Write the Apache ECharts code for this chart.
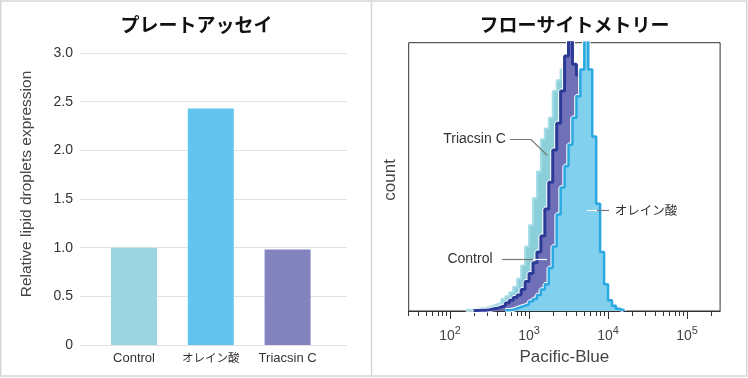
<!DOCTYPE html>
<html>
<head>
<meta charset="utf-8">
<script src="https://cdn.jsdelivr.net/npm/echarts@6/dist/echarts.min.js"></script>
<style>
html,body{margin:0;padding:0;background:#fff;}
#main{width:748px;height:378px;}
</style>
</head>
<body>
<div id="main"></div>
<script>
// ---- Left panel: plate assay ----
var barCategories = ['Control', 'オレイン酸', 'Triacsin C'];
var barValues = [1.00, 2.43, 0.98];
var barColors = ['#9AD5E0', '#63C5EF', '#8283BF'];
var barTicks = [0, 0.5, 1.0, 1.5, 2.0, 2.5, 3.0];

// ---- Right panel: flow cytometry histograms (bin start, log10 of Pacific-Blue) ----
var binStartLog = [2.20,2.25,2.30,2.35,2.40,2.45,2.50,2.55,2.60,2.65,2.70,2.75,2.80,2.85,2.90,2.95,3.00,3.05,3.10,3.15,3.20,3.25,3.30,3.35,3.40,3.45,3.50,3.55,3.60,3.65,3.70,3.75,3.80,3.85,3.90,3.95,4.00,4.05,4.10,4.15,4.20];
var triacsinCounts = [0.5,0.5,0.8,1,1.2,1.5,2,2.5,3,4.5,5.5,7,9,12,17,24,32,42,52,64,68,72,82,86,90,94,90,82,70,56,42,27,15,7,2.5,0.8,0,0,0,0,0];
var controlCounts  = [0,0,0.2,0.3,0.3,0.5,0.8,1,1.5,2,3,4,5,6,8,11,14,18,22,28,38,48,60,70,82,95,104,92,88,75,56,38,22,10,4,1,0,0,0,0,0];
var oleicCounts    = [0,0,0,0,0,0,0,0,0,0,0.3,0.5,1,1.5,2,2.5,3.5,4.5,6,8,10,16,24,36,46,54,62,72,80,90,104,90,65,40,22,10,4,2,0.8,0.3,0];
var binWidthLog = 0.05;
var flowMajorTicks = [100, 1000, 10000, 100000];
var flowMinorTicks = [30,40,50,60,70,80,90,200,300,400,500,600,700,800,900,2000,3000,4000,5000,6000,7000,8000,9000,20000,30000,40000,50000,60000,70000,80000,90000,200000];
var flowMin = 30, flowMax = 262144;
var flowLabelExponents = [2, 3, 4, 5];

function lg(v){ return Math.log(v) / Math.LN10; }
function histData(counts){
  var first = -1, last = -1;
  for (var i = 0; i < counts.length; i++) { if (counts[i] > 0) { if (first < 0) first = i; last = i; } }
  var out = [];
  for (var j = first; j <= last; j++) out.push([binStartLog[j], counts[j]]);
  out.push([binStartLog[last] + binWidthLog, 0]);
  return out;
}

var chart = echarts.init(document.getElementById('main'), null, {renderer: 'canvas'});
var FONT = '"Liberation Sans", Arial, "Noto Sans CJK JP", sans-serif';
var JP = '"Noto Sans CJK JP", "Liberation Sans", sans-serif';

function histSeries(name, counts, lineColor, lineWidth, areaColor, zBase){
  var d = histData(counts);
  return [
    {type: 'line', name: name + '-edge', xAxisIndex: 2, yAxisIndex: 2, step: 'end', symbol: 'none', clip: true,
     z: zBase, data: d, silent: true, lineStyle: {color: '#ffffff', width: lineWidth + 2}},
    {type: 'line', name: name, xAxisIndex: 2, yAxisIndex: 2, step: 'end', symbol: 'none', clip: true,
     z: zBase + 0.5, data: d, lineStyle: {color: lineColor, width: lineWidth}, areaStyle: {color: areaColor, opacity: 1}}
  ];
}

var series = [
  {type: 'bar', xAxisIndex: 1, yAxisIndex: 1, barWidth: 46,
   data: barValues.map(function(v, i){ return {value: v, itemStyle: {color: barColors[i]}}; })}
];
series = series.concat(histSeries('Triacsin C', triacsinCounts, '#A6DDE6', 2, '#8BCFDA', 2));
series = series.concat(histSeries('Control', controlCounts, '#2B3B97', 3, '#6F70B8', 3));
series = series.concat(histSeries('オレイン酸', oleicCounts, '#2AA8E0', 2.5, '#80D0EE', 4));

var option = {
  backgroundColor: '#ffffff',
  animation: false,
  textStyle: {fontFamily: FONT},
  title: [
    {text: 'プレートアッセイ', left: 191.5, top: 10, textAlign: 'center',
     textStyle: {fontFamily: JP, fontSize: 19, fontWeight: 'bold', color: '#111'}},
    {text: 'フローサイトメトリー', left: 569.5, top: 10, textAlign: 'center',
     textStyle: {fontFamily: JP, fontSize: 19, fontWeight: 'bold', color: '#111'}}
  ],
  grid: [
    {left: 80, top: 53, width: 267, height: 292},
    {left: 95.6, top: 53, width: 230.4, height: 292},
    {left: 408.7, top: 42.7, width: 311.4, height: 268.3, show: true, borderColor: '#333', borderWidth: 1, backgroundColor: 'transparent'}
  ],
  xAxis: [
    {type: 'value', gridIndex: 0, show: false, min: 0, max: 1},
    {type: 'category', gridIndex: 1, data: barCategories,
     axisLine: {show: false}, axisTick: {show: false},
     axisLabel: {interval: 0, margin: 7, color: '#333', fontSize: 13, fontFamily: FONT,
       formatter: function(v){ return /[^\x00-\x7F]/.test(v) ? '{j|' + v + '}' : v; },
       rich: {j: {fontFamily: JP, fontSize: 11.5, color: '#333'}}}},
    {type: 'value', gridIndex: 2, position: 'bottom', min: lg(flowMin), max: lg(flowMax),
     axisLine: {show: true, onZero: false, lineStyle: {color: '#333', width: 1}},
     axisTick: {show: true, inside: false, length: 5, customValues: flowMinorTicks.map(lg), lineStyle: {color: '#333', width: 1}},
     axisLabel: {show: false}, splitLine: {show: false}},
    {type: 'value', gridIndex: 2, position: 'bottom', min: lg(flowMin), max: lg(flowMax),
     axisLine: {show: false, onZero: false},
     axisTick: {show: true, inside: false, length: 8, customValues: flowMajorTicks.map(lg), lineStyle: {color: '#333', width: 1}},
     axisLabel: {show: true, margin: 14, customValues: flowLabelExponents,
       formatter: function(v){ return '{b|10}{s|' + Math.round(v) + '}'; },
       rich: {b: {fontSize: 14, color: '#444', fontFamily: FONT, verticalAlign: 'bottom'},
              s: {fontSize: 11, color: '#444', fontFamily: FONT, verticalAlign: 'bottom', padding: [0,0,7,0]}}},
     splitLine: {show: false},
     name: 'Pacific-Blue', nameLocation: 'middle', nameGap: 38,
     nameTextStyle: {fontSize: 17, color: '#444', fontFamily: FONT}}
  ],
  yAxis: [
    {type: 'value', gridIndex: 0, min: 0, max: 3, interval: 0.5,
     axisLine: {show: false}, axisTick: {show: false},
     axisLabel: {margin: 7, color: '#333', fontSize: 14, fontFamily: FONT,
       formatter: function(v){ return v === 0 ? '0' : v.toFixed(1); }},
     splitLine: {lineStyle: {color: '#e2e2e2', width: 1}},
     name: 'Relative lipid droplets expression', nameLocation: 'middle', nameGap: 46,
     nameTextStyle: {fontSize: 15.5, color: '#444', fontFamily: FONT, padding: [0, 0, 0, 30]}},
    {type: 'value', gridIndex: 1, min: 0, max: 3, show: false},
    {type: 'value', gridIndex: 2, min: 0, max: 100,
     axisLine: {show: false}, axisTick: {show: false}, axisLabel: {show: false}, splitLine: {show: false},
     name: 'count', nameLocation: 'middle', nameGap: 10,
     nameTextStyle: {fontSize: 17, color: '#444', fontFamily: FONT, padding: [0, 6, 0, 0]}}
  ],
  series: series,
  graphic: [
    {type: 'rect', shape: {x: 0.75, y: 1, width: 746, height: 375}, style: {fill: 'none', stroke: '#d6d6d6', lineWidth: 1.5}, z: 100},
    {type: 'line', shape: {x1: 371.5, y1: 1, x2: 371.5, y2: 376}, style: {stroke: '#d6d6d6', lineWidth: 1.5}, z: 100},
    {type: 'text', x: 474.5, y: 139.5, style: {text: 'Triacsin C', fill: '#333', font: '14px ' + FONT, align: 'center', verticalAlign: 'middle'}, z: 100},
    {type: 'polyline', shape: {points: [[510, 139.5], [531, 139.5], [547.5, 155.5]]}, style: {stroke: '#777', lineWidth: 1.2, fill: null}, z: 100},
    {type: 'text', x: 470, y: 259.5, style: {text: 'Control', fill: '#333', font: '14px ' + FONT, align: 'center', verticalAlign: 'middle'}, z: 100},
    {type: 'line', shape: {x1: 502, y1: 259.5, x2: 533, y2: 259.5}, style: {stroke: '#777', lineWidth: 1.2}, z: 100},
    {type: 'line', shape: {x1: 533, y1: 259.5, x2: 547, y2: 259.5}, style: {stroke: '#fff', lineWidth: 1.2}, z: 100},
    {type: 'text', x: 614.7, y: 210.5, style: {text: 'オレイン酸', fill: '#333', font: '12.5px ' + JP, align: 'left', verticalAlign: 'middle'}, z: 100},
    {type: 'line', shape: {x1: 587, y1: 210.5, x2: 597, y2: 210.5}, style: {stroke: '#fff', lineWidth: 1.2}, z: 100},
    {type: 'line', shape: {x1: 597, y1: 210.5, x2: 609, y2: 210.5}, style: {stroke: '#777', lineWidth: 1.2}, z: 100}
  ]
};
chart.setOption(option);
</script>
</body>
</html>
